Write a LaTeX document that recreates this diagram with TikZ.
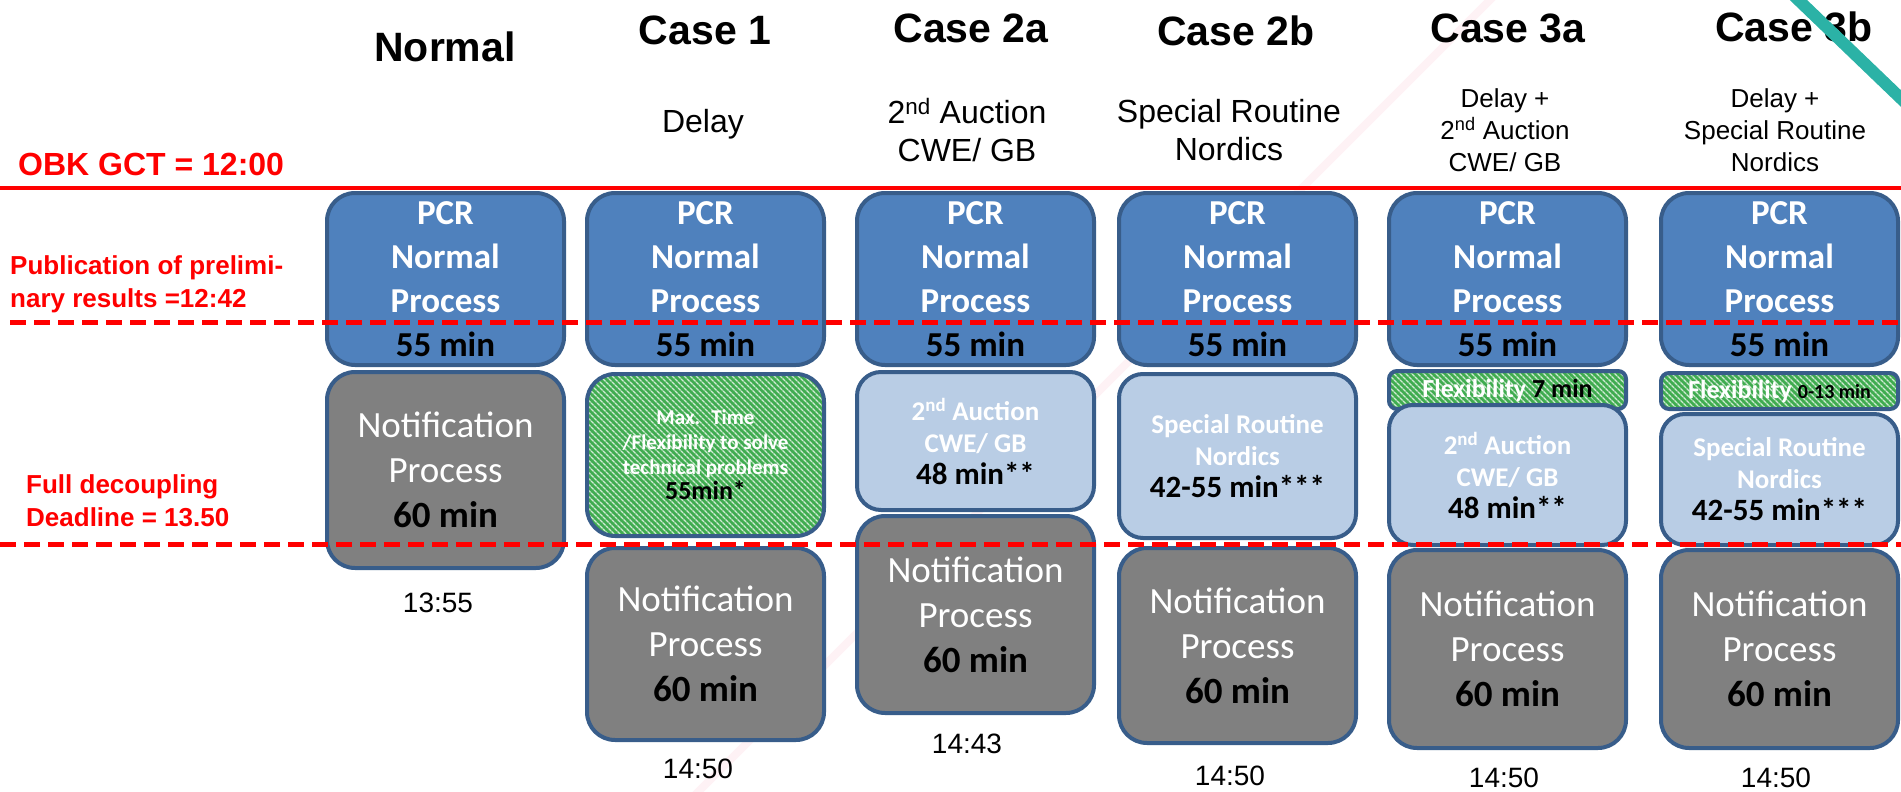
\documentclass[tikz,border=0pt]{standalone}
\usepackage{fontspec}
\setmainfont{Liberation Sans}
\newfontfamily\calibri{Carlito}
\usetikzlibrary{patterns.meta}

\definecolor{pcrblue}{RGB}{79,129,189}
\definecolor{edgeblue}{RGB}{56,93,138}
\definecolor{paleblue}{RGB}{185,205,229}
\definecolor{notegray}{RGB}{128,128,128}
\definecolor{flexgreen}{RGB}{64,172,80}
\definecolor{tealline}{RGB}{43,178,166}
\definecolor{pinkline}{RGB}{254,242,245}

\newcommand{\fsz}[2]{\fontsize{#1}{#2}\selectfont}

\begin{document}
\begin{tikzpicture}[
    x=1pt, y=-1pt,
    box/.style={rectangle, rounded corners=28pt, draw=edgeblue, line width=4pt, minimum width=237pt, inner sep=0pt, align=center},
    pcr/.style={box, fill=pcrblue, minimum height=172pt, text=white, font=\calibri\bfseries\fsz{35}{44}},
    notif/.style={box, fill=notegray, text=white, font=\calibri\fsz{37}{45}},
    pale/.style={box, fill=paleblue, rounded corners=24pt, text=white, font=\calibri\bfseries\fsz{27}{32}},
    flex/.style={box, preaction={fill=flexgreen}, pattern={Lines[angle=-45, distance=4pt, line width=1.5pt]}, pattern color=white!75!flexgreen, text=white, font=\calibri\bfseries\fsz{26}{32}},
    hdr/.style={anchor=base, font=\bfseries\fsz{41}{48}},
    sub/.style={align=center, inner sep=0pt, font=\fsz{32}{38}},
    redtxt/.style={text=red, inner sep=0pt, align=left, font=\bfseries\fsz{26}{33}},
    time/.style={anchor=base, font=\fsz{28}{34}},
    gctline/.style={red, line width=4pt},
    cutline/.style={red, line width=5pt, dash pattern=on 16pt off 8pt}
]
\useasboundingbox (0,0) rectangle (1901,792);

% faint background stroke
\draw[pinkline, line width=8pt] (1500,-10) -- (680,810);

% column titles
\node[hdr] (hd-nrm) at (445,62) {Normal};
\node[hdr] (hd-one) at (705,45) {Case 1};
\node[hdr] (hd-twoa) at (971,43) {Case 2a};
\node[hdr] (hd-twob) at (1236,46) {Case 2b};
\node[hdr] (hd-thra) at (1508,43) {Case 3a};
\node[hdr] (hd-thrb) at (1794,42) {Case 3b};

\node[sub, anchor=base] (sb-one) at (703,132) {Delay};
\node[sub] (sb-twoa) at (967,130) {2\textsuperscript{nd} Auction\\CWE/ GB};
\node[sub] (sb-twob) at (1229,130) {Special Routine\\Nordics};
\node[sub, font=\fsz{26}{32}] (sb-thra) at (1505,130) {Delay +\\2\textsuperscript{nd} Auction\\CWE/ GB};
\node[sub, font=\fsz{26}{32}] (sb-thrb) at (1775,130) {Delay +\\Special Routine\\Nordics};

% time marks on the left
\node[redtxt, anchor=base west, font=\bfseries\fsz{32}{36}] (gct) at (18,175) {OBK GCT = 12:00};
\node[redtxt, anchor=north west] (prelim) at (10,255) {Publication of prelimi-\\nary results =12:42};
\node[redtxt, anchor=north west] (decoup) at (26,474) {Full decoupling\\Deadline = 13.50};

% PCR boxes
\foreach \c/\x in {nrm/445.5, one/705.5, twoa/975.5, twob/1237.5, thra/1507.5, thrb/1779.5} {
    \node[pcr] (pcr-\c) at (\x,279) {PCR\\Normal\\Process\\{\color{black}55 min}};
}

% flexibility boxes
\node[flex, minimum height=162pt, font=\calibri\bfseries\fsz{21}{25}] (flex-one) at (705.5,455) {Max.~ Time\\/Flexibility to solve\\technical problems\\{\fsz{26}{25}\color{black}55min*}};
\node[flex, minimum height=38pt, rounded corners=8pt] (flex-thra) at (1507.5,390) {Flexibility {\color{black}7 min}};
\node[flex, minimum height=36pt, rounded corners=8pt] (flex-thrb) at (1779.5,391) {Flexibility {\fsz{20}{24}\color{black}0-13 min}};

% second auction / special routine
\node[pale, minimum height=138pt] (aux-twoa) at (975.5,441) {2\textsuperscript{nd} Auction\\CWE/ GB\\{\fsz{31}{32}\color{black}48 min**}};
\node[pale, minimum height=164pt] (aux-twob) at (1237.5,456) {Special Routine\\Nordics\\{\fsz{31}{32}\color{black}42-55 min***}};
\node[pale, minimum height=140pt] (aux-thra) at (1507.5,475) {2\textsuperscript{nd} Auction\\CWE/ GB\\{\fsz{31}{32}\color{black}48 min**}};
\node[pale, minimum height=131pt] (aux-thrb) at (1779.5,479.5) {Special Routine\\Nordics\\{\fsz{31}{32}\color{black}42-55 min***}};

% notification boxes
\foreach \c/\x/\y/\h in {nrm/445.5/470/196, one/705.5/644/192, twoa/975.5/614.5/197, twob/1237.5/645.5/195, thra/1507.5/649/198, thrb/1779.5/649/198} {
    \node[notif, minimum height=\h pt] (not-\c) at (\x,\y) {Notification\\Process\\\textbf{\textcolor{black}{60 min}}};
}

% end times
\node[time] (t-nrm) at (438,612) {13:55};
\node[time] (t-one) at (698,778) {14:50};
\node[time] (t-twoa) at (967,753) {14:43};
\node[time] (t-twob) at (1230,785) {14:50};
\node[time] (t-thra) at (1504,787) {14:50};
\node[time] (t-thrb) at (1776,787) {14:50};

% gate closure and deadlines
\draw[gctline] (0,188) -- (1901,188);
\draw[cutline] (10,322) -- (1901,322);
\draw[cutline] (0,544) -- (1901,544);

\draw[tealline, line width=12pt] (1788,-10) -- (1915,112);

\end{tikzpicture}
\end{document}
